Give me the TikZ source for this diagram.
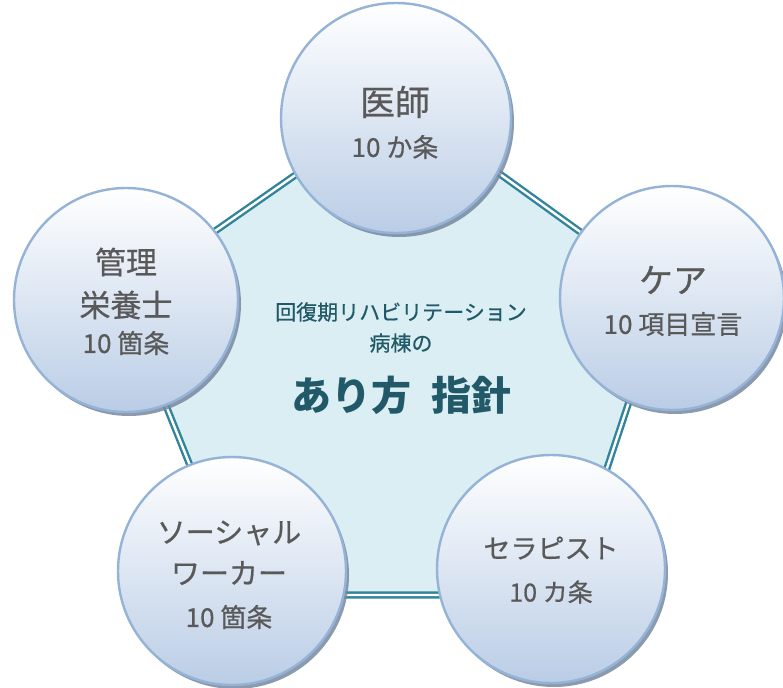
\documentclass[tikz,border=0pt]{standalone}
\usepackage{fontspec}
\setmainfont{Noto Sans CJK JP}
\newfontfamily\medfont[FakeBold=0.6]{Noto Sans CJK JP}
\usetikzlibrary{shadows}
\definecolor{pentfill}{RGB}{218,238,243}
\definecolor{penline}{RGB}{49,132,155}
\definecolor{circline}{RGB}{149,179,215}
\definecolor{circbot}{RGB}{186,205,230}
\definecolor{shadowc}{RGB}{120,136,160}
\definecolor{labgray}{RGB}{89,89,89}
\definecolor{centertext}{RGB}{33,89,104}
\begin{document}
\begin{tikzpicture}[x=1pt,y=-1pt,
  disc/.style={circle, inner sep=0pt, draw=circline, line width=2.4pt,
    top color=white, bottom color=circbot,
    drop shadow={shadow xshift=3pt,shadow yshift=-4pt,fill=shadowc,opacity=0.85}},
  lab/.style={text=labgray, inner sep=0pt},
  ctext/.style={text=centertext, inner sep=0pt},
  edge2/.style={draw=penline, double=white, line width=2.4pt, double distance=2.4pt}
]
\useasboundingbox (0,0) rectangle (783,687);
% pentagon
\coordinate (p1) at (400,102);
\coordinate (p2) at (665,293);
\coordinate (p3) at (565,595);
\coordinate (p4) at (242,595);
\coordinate (p5) at (122,296);
\fill[pentfill] (p1)--(p2)--(p3)--(p4)--(p5)--cycle;
\draw[edge2] (p1)--(p2)--(p3)--(p4)--(p5)--cycle;
% circles
\node[disc, minimum size=230pt] (top) at (396,118) {};
\node[disc, minimum size=224pt] (right) at (672,298) {};
\node[disc, minimum size=228pt] (bright) at (551,569) {};
\node[disc, minimum size=228pt] (bleft) at (232,571) {};
\node[disc, minimum size=224pt] (left) at (126,300) {};
% labels
\node[lab, font=\medfont\fontsize{35}{40}\selectfont] (topA) at (395,102) {医師};
\node[lab, font=\medfont\fontsize{26}{30}\selectfont] (topB) at (395,147) {10 か条};
\node[lab, font=\medfont\fontsize{34}{40}\selectfont] (rightA) at (673,280) {ケア};
\node[lab, font=\medfont\fontsize{26}{30}\selectfont] (rightB) at (673,324) {10 項目宣言};
\node[lab, font=\medfont\fontsize{27}{30}\selectfont] (brA) at (551,548) {セラピスト};
\node[lab, font=\medfont\fontsize{25}{30}\selectfont] (brB) at (551,592) {10 カ条};
\node[lab, font=\medfont\fontsize{29}{34}\selectfont] (blA) at (229,533) {ソーシャル};
\node[lab, font=\medfont\fontsize{29}{34}\selectfont] (blB) at (229,573) {ワーカー};
\node[lab, font=\medfont\fontsize{26}{30}\selectfont] (blC) at (229,617) {10 箇条};
\node[lab, font=\medfont\fontsize{31}{36}\selectfont] (leftA) at (126,262) {管理};
\node[lab, font=\medfont\fontsize{31}{36}\selectfont] (leftB) at (126,305) {栄養士};
\node[lab, font=\medfont\fontsize{26}{30}\selectfont] (leftC) at (126,343) {10 箇条};
% centre text
\node[ctext, font=\medfont\fontsize{21}{24}\selectfont] (c1) at (401,312) {回復期リハビリテーション};
\node[ctext, font=\medfont\fontsize{21}{24}\selectfont] (c2) at (401,343) {病棟の};
\node[ctext, font=\fontsize{40}{44}\selectfont\bfseries] (c3) at (401,395) {あり方\hspace{0.5em}指針};
\end{tikzpicture}
\end{document}
